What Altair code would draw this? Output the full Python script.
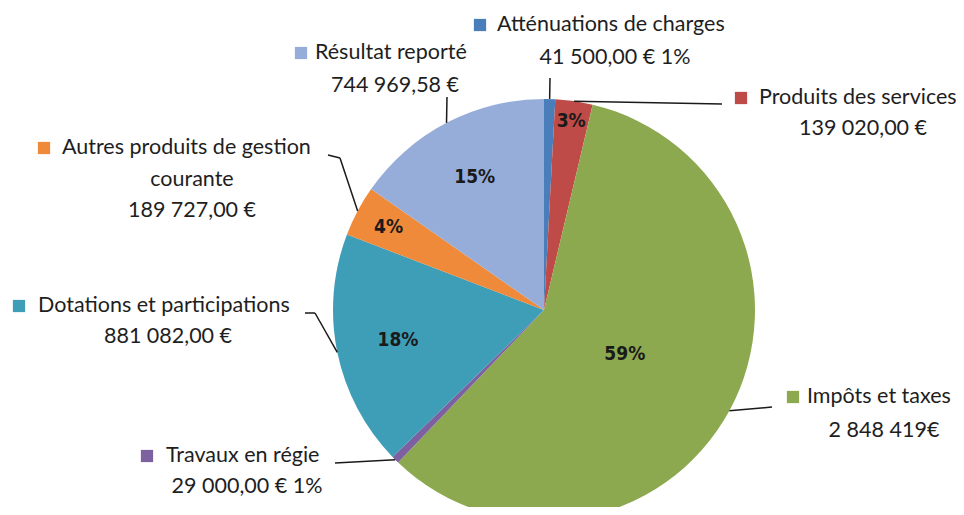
import altair as alt
import pandas as pd

# ---------------- data ----------------
categories = [
    "Atténuations de charges",
    "Produits des services",
    "Impôts et taxes",
    "Travaux en régie",
    "Dotations et participations",
    "Autres produits de gestion courante",
    "Résultat reporté",
]
values = [41500.00, 139020.00, 2848419.00, 29000.00, 881082.00, 189727.00, 744969.58]
amount_labels = [
    "41 500,00 €  1%",
    "139 020,00 €",
    "2 848 419€",
    "29 000,00 €  1%",
    "881 082,00 €",
    "189 727,00 €",
    "744 969,58 €",
]
pct_labels = ["", "3%", "59%", "", "18%", "4%", "15%"]
name_lines = [
    ["Atténuations de charges"],
    ["Produits des services"],
    ["Impôts et taxes"],
    ["Travaux en régie"],
    ["Dotations et participations"],
    ["Autres produits de gestion", "courante"],
    ["Résultat reporté"],
]
colors = ["#4A7EBB", "#BE4B48", "#8CA94F", "#7D60A0", "#3E9DB7", "#EE8A3A", "#96ADD9"]

# ---------------- layout (page pixels) ----------------
PAGE = 8
W, H = 948, 499
CX, CY, R = 544 - PAGE, 310 - PAGE, 211
pct_radius = [0, 191, 92, 0, 149, 176, 150]
marker_pos = [(480, 25), (741, 98), (793, 397), (147, 456), (19, 306), (44, 148), (301, 53)]
title_left = [497, 759, 807, 166, 38, 62, 315]
rest_x = [615, 863, 884, 247, 168, 192, 395]
rest_y = [[58], [129], [431], [487], [337], [180, 211], [86]]
leader_bend = [(550, 78), (722, 104), (772, 407), (335, 463), (315, 313), (340, 158), (447, 97)]
leader_end = [(550, 78), (722, 104), (772, 407), (335, 463), (305, 313), (328, 155), (447, 97)]

TEXT_FONT = "Lato"
TEXT_SIZE = 21.5
TEXT_COLOR = "#1e1e1e"

# ---------------- tables ----------------
slices = pd.DataFrame({
    "idx": list(range(len(categories))),
    "category": categories,
    "value": values,
    "pct": pct_labels,
    "lab_r": pct_radius,
    "bx": [p[0] - PAGE for p in leader_bend],
    "by": [p[1] - PAGE for p in leader_bend],
    "tx": [p[0] - PAGE for p in leader_end],
    "ty": [p[1] - PAGE for p in leader_end],
    "mx": [p[0] - PAGE for p in marker_pos],
    "my": [p[1] - PAGE for p in marker_pos],
    "t1": [n[0] for n in name_lines],
    "t1x": [x - PAGE for x in title_left],
})

rows = []
for i, cat in enumerate(categories):
    rest = name_lines[i][1:] + [amount_labels[i]]
    for txt, yy in zip(rest, rest_y[i]):
        rows.append({"category": cat, "text": txt, "x": rest_x[i] - PAGE, "y": yy - PAGE})
rest_df = pd.DataFrame(rows)

color_scale = alt.Scale(domain=categories, range=colors)

base = alt.Chart(slices)

arcs = base.mark_arc(radius=R).encode(
    theta=alt.Theta("value:Q", stack=True),
    color=alt.Color("category:N", scale=color_scale, legend=None),
    order=alt.Order("idx:Q"),
    x=alt.value(CX),
    y=alt.value(CY),
)

geo = base.transform_joinaggregate(
    total="sum(value)"
).transform_window(
    cum="sum(value)", sort=[alt.SortField("idx")], frame=[None, 0]
).transform_calculate(
    mid="(datum.cum - datum.value / 2) / datum.total * 2 * PI"
).transform_calculate(
    ex=f"{CX} + {R} * sin(datum.mid)",
    ey=f"{CY} - {R} * cos(datum.mid)",
    lx=f"{CX} + datum.lab_r * sin(datum.mid)",
    ly=f"{CY} - datum.lab_r * cos(datum.mid)",
)

pct_text = geo.mark_text(
    font="Liberation Sans Narrow, Arial Narrow, DejaVu Sans Condensed, Roboto",
    fontSize=19, fontWeight="bold", color="#1a1a1a", baseline="middle", align="center",
).encode(
    x=alt.X("lx:Q", scale=None, axis=None),
    y=alt.Y("ly:Q", scale=None, axis=None),
    text="pct:N",
)

leader1 = geo.mark_rule(color="#1a1a1a", strokeWidth=1.5).encode(
    x=alt.X("ex:Q", scale=None, axis=None),
    y=alt.Y("ey:Q", scale=None, axis=None),
    x2="bx:Q",
    y2="by:Q",
)
leader2 = base.mark_rule(color="#1a1a1a", strokeWidth=1.5).encode(
    x=alt.X("bx:Q", scale=None, axis=None),
    y=alt.Y("by:Q", scale=None, axis=None),
    x2="tx:Q",
    y2="ty:Q",
)

markers = base.mark_square(size=150, opacity=1).encode(
    x=alt.X("mx:Q", scale=None, axis=None),
    y=alt.Y("my:Q", scale=None, axis=None),
    color=alt.Color("category:N", scale=color_scale, legend=None),
)

titles = base.mark_text(
    font=TEXT_FONT, fontSize=TEXT_SIZE, color=TEXT_COLOR, align="left", baseline="middle"
).encode(
    x=alt.X("t1x:Q", scale=None, axis=None),
    y=alt.Y("my:Q", scale=None, axis=None),
    text="t1:N",
)

rest_text = alt.Chart(rest_df).mark_text(
    font=TEXT_FONT, fontSize=TEXT_SIZE, color=TEXT_COLOR, align="center", baseline="middle"
).encode(
    x=alt.X("x:Q", scale=None, axis=None),
    y=alt.Y("y:Q", scale=None, axis=None),
    text="text:N",
)

chart = alt.layer(arcs, leader1, leader2, pct_text, markers, titles, rest_text).properties(
    width=W, height=H, padding=0, autosize=alt.AutoSizeParams(type="none"),
    background="white",
).configure_view(stroke=None)

chart.save("out.html", embed_options={"renderer": "svg", "actions": False})
